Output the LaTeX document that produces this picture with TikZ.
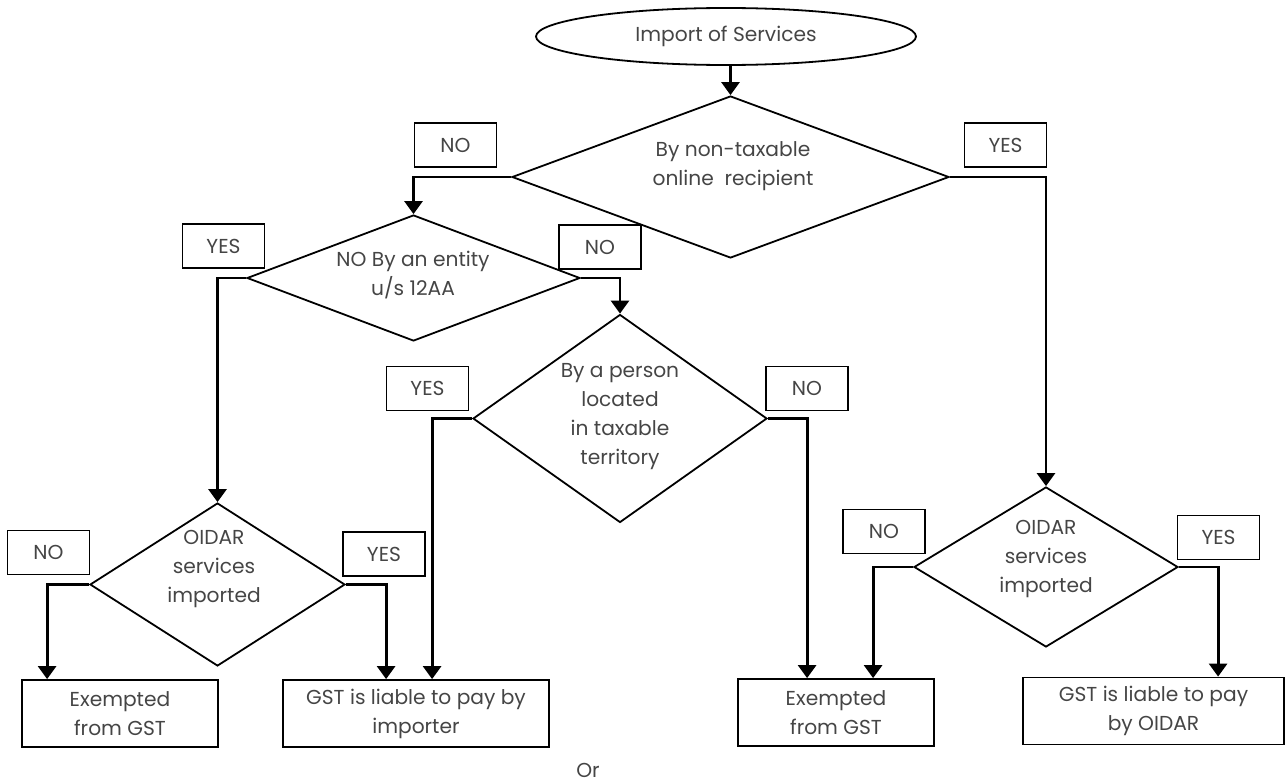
\documentclass[tikz,border=0pt]{standalone}
\usepackage{fontspec}
\setmainfont{Poppins}
\usetikzlibrary{shapes.geometric,arrows.meta,calc}
\definecolor{txtc}{HTML}{454545}
\tikzset{
  every node/.style={font=\fontsize{20.2}{29}\selectfont, text=txtc},
  dia/.style={draw=black, line width=1.8pt, shape=diamond, inner sep=0pt, aspect=1},
  lbl/.style={draw=black, line width=1.8pt, minimum width=82pt, minimum height=44pt, inner sep=0pt},
  res/.style={draw=black, line width=1.8pt, minimum height=67pt, inner sep=0pt, align=center},
  dtxt/.style={align=center, inner sep=0pt},
  conn/.style={draw=black, line width=2.8pt, -{Triangle[width=18pt,length=13pt]}},
}
\begin{document}
\begin{tikzpicture}[x=1pt,y=-1pt]
\useasboundingbox (0,0) rectangle (1288,784);
% start
\node[draw=black, line width=1.8pt, ellipse, minimum width=380pt, minimum height=57pt, inner sep=0pt] (e) at (726,36.5) {Import of Services};
% diamonds
\node[dia, minimum width=437pt, minimum height=162pt] (d1) at (730.5,177) {};
\node[dtxt] (t1) at (733,166) {By non-taxable\\online\ \ recipient};
\node[dia, minimum width=333pt, minimum height=126pt] (d2) at (413.5,278) {};
\node[dtxt] (t2) at (413,275) {NO By an entity\\u/s 12AA};
\node[dia, minimum width=294pt, minimum height=208pt] (d3) at (620,418.5) {};
\node[dtxt] (t3) at (620,417) {By a person\\located\\in taxable\\territory};
\node[dia, minimum width=255pt, minimum height=163pt] (d4) at (217.5,584.5) {};
\node[dtxt] (t4) at (214,569) {OIDAR\\services\\imported};
\node[dia, minimum width=264pt, minimum height=160pt] (d5) at (1046,567) {};
\node[dtxt] (t5) at (1046,559) {OIDAR\\services\\imported};
% labels
\node[lbl] (l1) at (455.5,145) {NO};
\node[lbl] (l2) at (1005.5,145) {YES};
\node[lbl] (l3) at (223.5,246) {YES};
\node[lbl] (l4) at (600,247) {NO};
\node[lbl] (l5) at (427.5,388.5) {YES};
\node[lbl] (l6) at (807,388.5) {NO};
\node[lbl] (l7) at (48.5,552.5) {NO};
\node[lbl] (l8) at (384,554) {YES};
\node[lbl] (l9) at (884,531.5) {NO};
\node[lbl] (l10) at (1218.5,537.5) {YES};
% results
\node[res, minimum width=196pt] (r1) at (120,713.5) {Exempted\\from GST};
\node[res, minimum width=266pt] (r2) at (416,713.5) {GST is liable to pay by\\importer};
\node[res, minimum width=196pt] (r3) at (836,712.5) {Exempted\\from GST};
\node[res, minimum width=261pt] (r4) at (1153.5,711) {GST is liable to pay\\by OIDAR};
\node (or) at (588,770) {Or};
% connectors
\draw[conn] (d1.north |- e.south) -- (d1.north);
\draw[conn] (d1.west) -| (d2.north);
\draw[conn] (d1.east) -| (d5.north);
\draw[conn] (d2.west) -| (d4.north);
\draw[conn] (d2.east) -| (d3.north);
\draw[conn] (d4.west) -| ($(r1.north west)+(26,0)$);
\draw[conn] (d4.east) -| ($(r2.north west)+(104,0)$);
\draw[conn] (d3.west) -| ($(r2.north west)+(150,0)$);
\draw[conn] (d3.east) -| ($(r3.north west)+(70,0)$);
\draw[conn] (d5.west) -| ($(r3.north west)+(136,0)$);
\draw[conn] (d5.east) -| ($(r4.north west)+(196,0)$);
\end{tikzpicture}
\end{document}
